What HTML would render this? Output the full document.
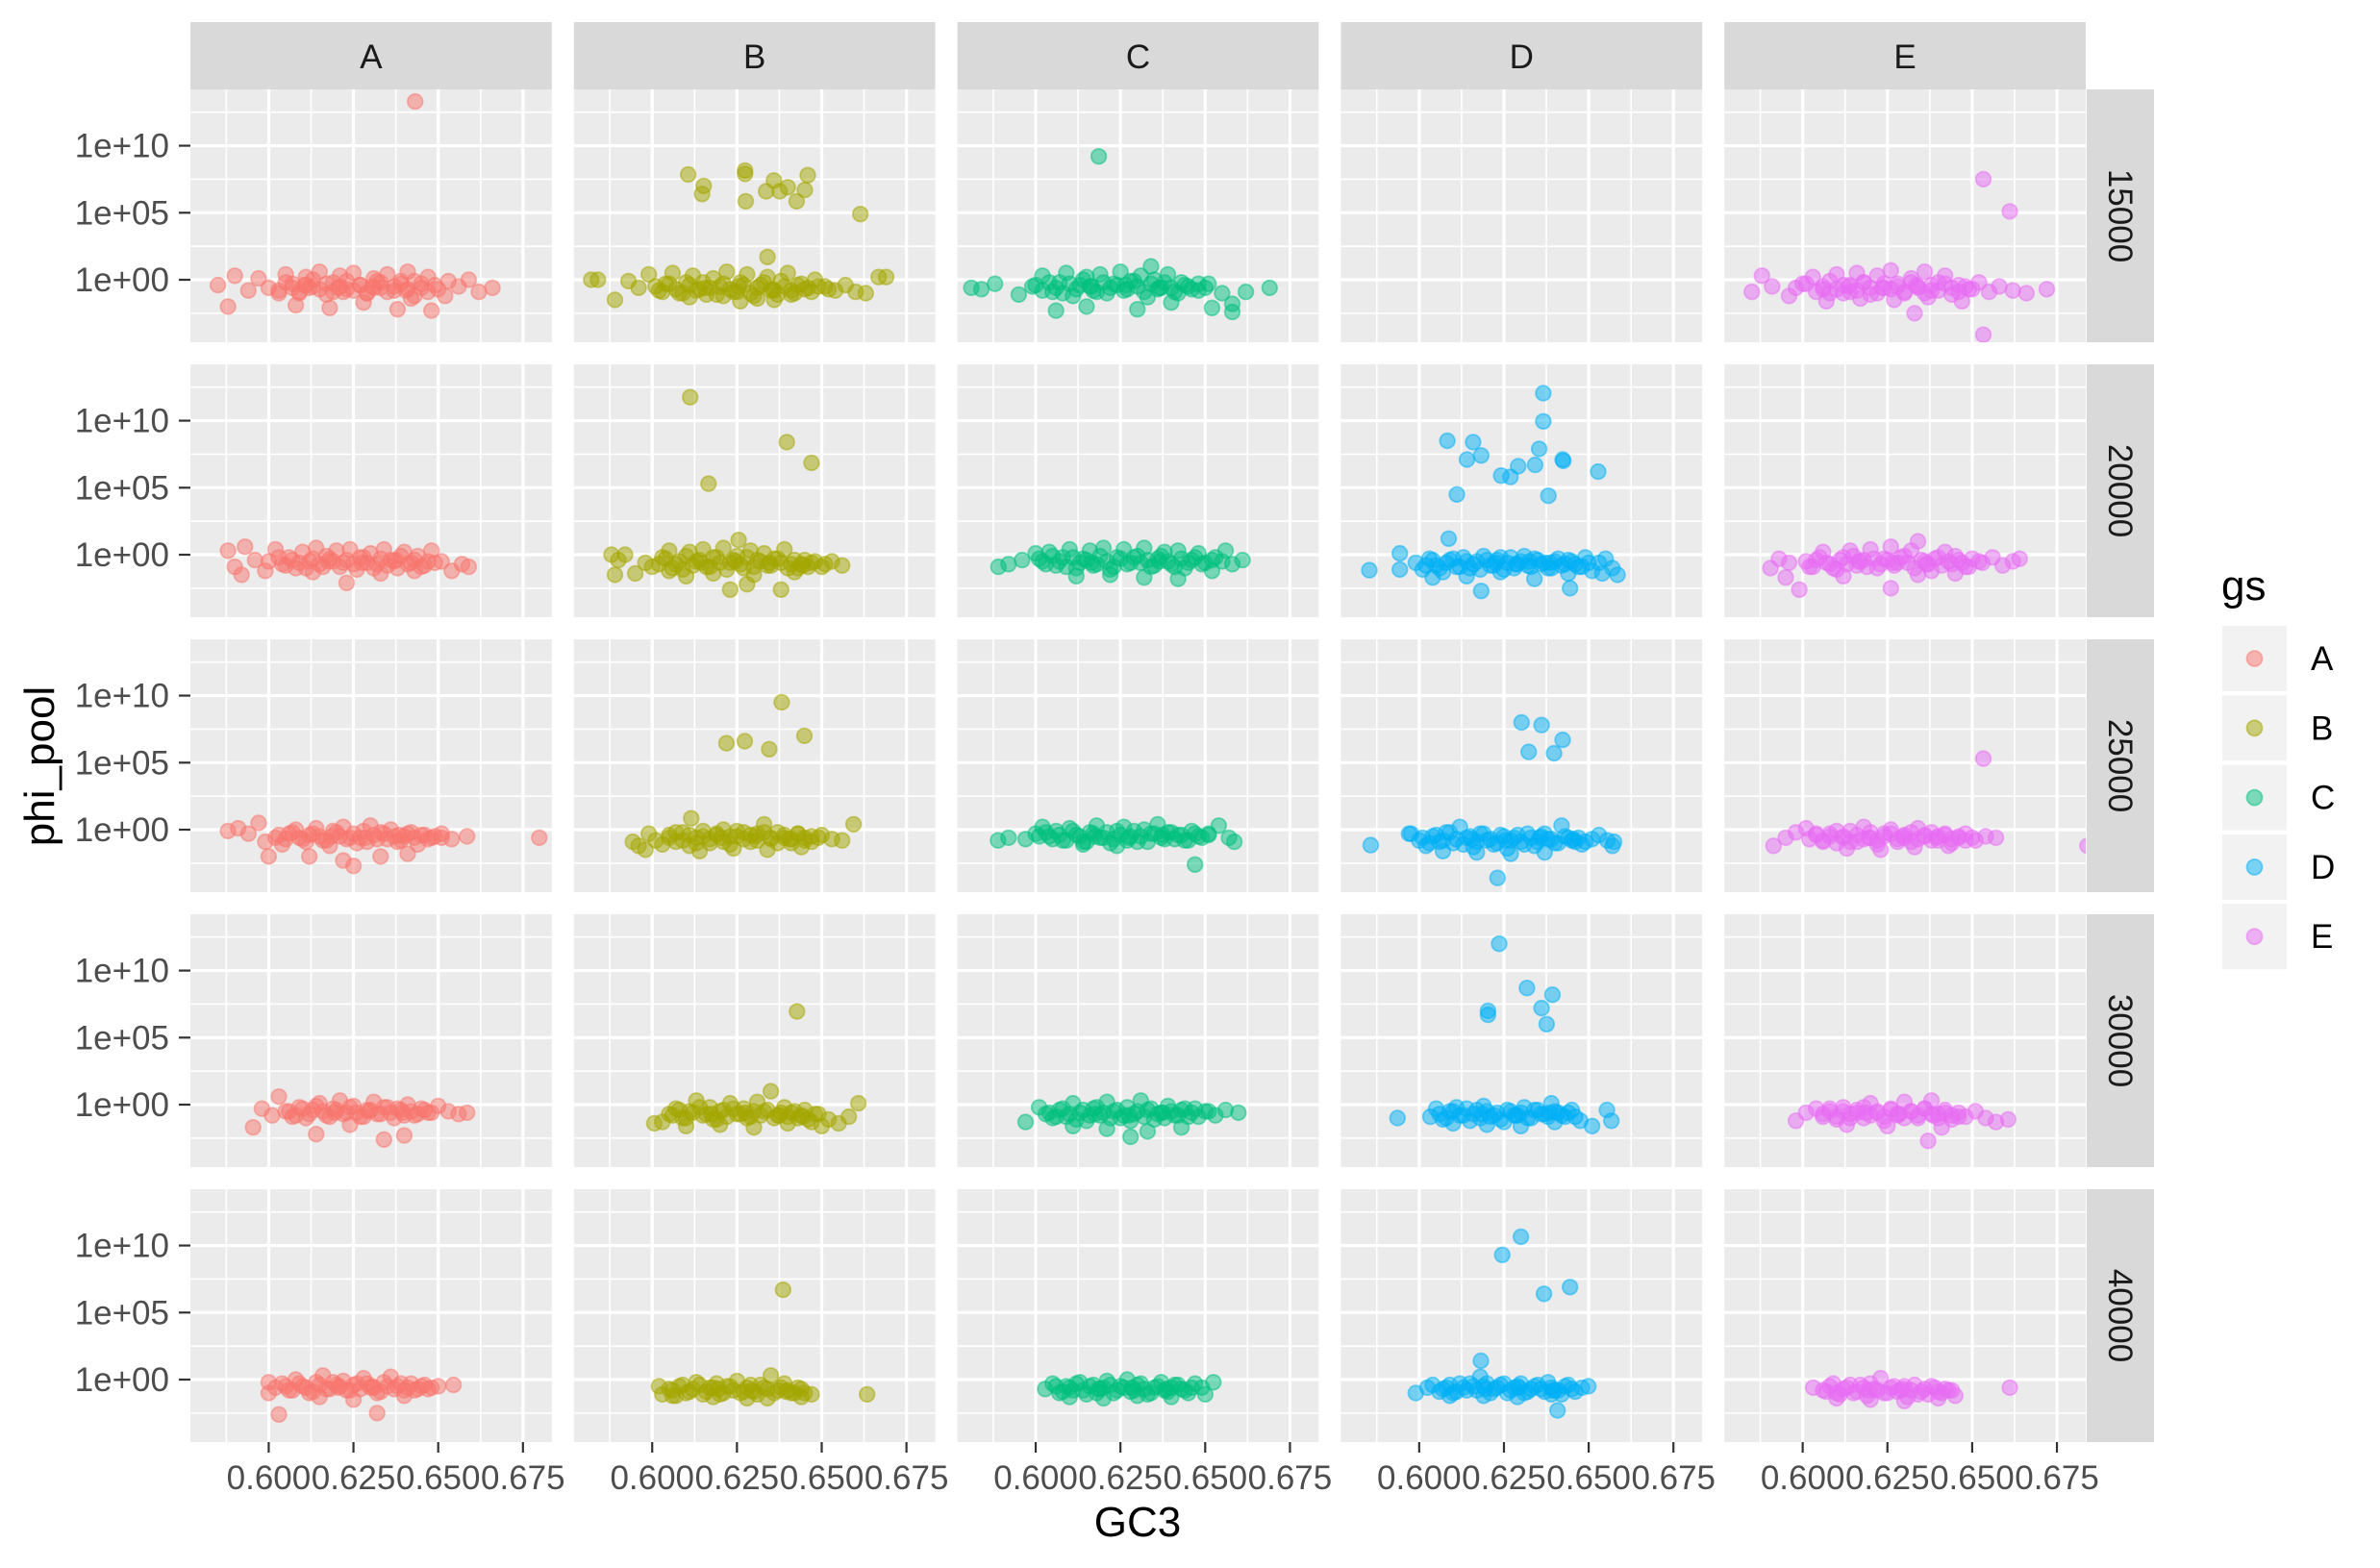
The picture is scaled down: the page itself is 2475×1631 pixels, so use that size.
<!DOCTYPE html>
<html><head><meta charset="utf-8"><style>
html,body{margin:0;padding:0;background:#fff;}
svg{display:block;font-family:"Liberation Sans",Arial,sans-serif;}
</style></head><body>
<svg id="chart" width="2475" height="1631" viewBox="0 0 2475 1631" xmlns="http://www.w3.org/2000/svg">
<rect x="0" y="0" width="2475" height="1631" fill="#ffffff"/>
<g id="panels"></g>
<g id="strips"></g>
<g id="axes"></g>
<text x="1183" y="1598" font-size="44" text-anchor="middle" fill="#000">GC3</text>
<text x="0" y="0" font-size="44" text-anchor="middle" fill="#000" transform="translate(56,797) rotate(-90)">phi_pool</text>
<g id="legend">
<text x="2310" y="624" font-size="44" fill="#000">gs</text>
</g>
</svg>
<script>
const groups = ["A","B","C","D","E"];
const rowsLab = ["15000","20000","25000","30000","40000"];
const colors = ["#F8766D","#A3A500","#00BF7D","#00B0F6","#E76BF3"];
const xTicks = [0.600,0.625,0.650,0.675];
const xTickLabels = ["0.600","0.625","0.650","0.675"];
const yTicks = [0,5,10];
const yTickLabels = ["1e+00","1e+05","1e+10"];

// row 15000
const gc_A_15000 = [.585,.590,.594,.597,.600,.603,.605,.607,.609,.611,.613,.615,.617,.619,.621,.623,.625,.627,.629,.631,.633,.635,.637,.639,.641,.643,.645,.647,.650,.653,.656,.659,.662,.666,.588,.608,.618,.628,.638,.648,.612,.622,.632,.642,.652,.6432];
const lg_A_15000 = [-.4,.3,-.8,.1,-.6,-1.0,.4,-.3,-.9,.2,-.5,.6,-1.1,-.2,.3,-.7,.5,-.4,-1.0,.1,-.6,.4,-.8,-.1,.6,-1.2,-.3,.2,-.7,-.1,-.5,0,-.9,-.6,-2.0,-1.9,-2.1,-1.7,-2.2,-2.3,-.6,-.9,-.1,-1.4,-1.2,13.3];
const gcx_A_15000 = [.603,.605,.607,.609,.611,.613,.615,.617,.619,.621,.623,.625,.627,.629,.631,.633,.635,.637,.639,.641,.643,.645,.647,.649,.6105,.6205,.6305,.6405];
const lgx_A_15000 = [-.8,-.2,-.6,-1.0,-.4,.0,-.7,-.3,-.9,-.5,-.1,-.8,-.4,-1.0,-.6,-.2,-.9,-.5,-.3,-.7,-.1,-.6,-.9,-.4,-.4,-.6,-.5,-.8];
const gc_B_15000 = [.582,.584,.589,.593,.596,.599,.602,.604,.606,.608,.610,.612,.614,.616,.618,.620,.622,.624,.626,.628,.630,.632,.634,.636,.638,.640,.642,.644,.646,.648,.651,.654,.657,.660,.663,.669,.611,.621,.631,.641,.626,.636,.6106,.6152,.6147,.6274,.6274,.6276,.6359,.6336,.6376,.640,.6426,.645,.6459,.6614,.634,.6668];
const lg_B_15000 = [0,0,-1.5,-.1,-.6,.4,-.8,-.3,.5,-1.0,-.2,.3,-.7,-1.1,.1,-.5,.6,-.9,-.2,.4,-1.2,-.4,.2,-.8,-.1,.5,-1.0,-.3,-.6,0,-.5,-.8,-.4,-.9,-1.0,.2,-1.3,-1.2,-1.4,-1.1,-1.6,-1.5,7.85,7.0,6.4,8.15,7.9,5.85,7.4,6.6,6.6,6.9,5.85,6.7,7.8,4.9,1.7,.2];
const gcx_B_15000 = [.601,.603,.605,.607,.609,.611,.613,.615,.617,.619,.621,.623,.625,.627,.629,.631,.633,.635,.637,.639,.641,.643,.645,.647,.649,.652,.6155,.6255,.6355];
const lgx_B_15000 = [-.5,-.9,-.3,-.7,-1.0,-.4,-.8,-.2,-.6,-1.1,-.3,-.7,-.9,-.4,-1.0,-.6,-.2,-.8,-1.1,-.5,-.8,-.4,-.7,-.9,-.5,-.7,-.6,-.5,-.7];
const gc_C_15000 = [.581,.584,.588,.595,.599,.602,.605,.607,.609,.611,.613,.615,.617,.619,.621,.623,.625,.627,.629,.631,.633,.635,.637,.639,.641,.643,.645,.648,.651,.655,.658,.658,.662,.669,.606,.615,.630,.640,.652,.6186,.634];
const lg_C_15000 = [-.6,-.7,-.3,-1.1,-.5,.3,-.9,-.2,.5,-1.2,-.4,.2,-.8,.4,-1.0,-.3,.6,-.7,-.1,.3,-1.3,0,-.6,.4,-.9,-.2,-.5,-.8,-.3,-1.0,-1.8,-2.4,-.9,-.6,-2.3,-2.0,-2.2,-1.7,-2.1,9.2,1.0];
const gcx_C_15000 = [.600,.602,.604,.606,.608,.610,.612,.614,.616,.618,.620,.622,.624,.626,.628,.630,.632,.634,.636,.638,.640,.642,.644,.646,.648,.650,.6165,.6265,.6365];
const lgx_C_15000 = [-.4,-.8,-.2,-.6,-1.0,-.3,-.7,.0,-.5,-.9,-.2,-.6,-.4,-.8,-.1,-.5,-.9,-.3,-.7,-.2,-.6,-1.0,-.4,-.7,-.3,-.6,-.5,-.4,-.6];
const gc_D_15000 = [];
const lg_D_15000 = [];
const gcx_D_15000 = [];
const lgx_D_15000 = [];
const gc_E_15000 = [.585,.588,.591,.596,.600,.603,.606,.608,.610,.612,.614,.616,.618,.620,.622,.624,.626,.628,.630,.632,.634,.636,.638,.640,.642,.644,.646,.649,.652,.655,.658,.662,.666,.672,.607,.617,.627,.637,.647,.633,.6533,.6611,.6533];
const lg_E_15000 = [-.9,.3,-.5,-1.2,-.3,.2,-.7,-1.0,.4,-.4,-.9,.5,-.2,-1.1,.3,-.6,.7,-.3,-1.0,.1,-.5,.6,-.8,-.2,.3,-1.1,-.4,-.7,-.2,-.9,-.5,-.8,-1.0,-.7,-1.6,-1.4,-1.5,-1.3,-1.6,-2.5,7.5,5.1,-4.1];
const gcx_E_15000 = [.598,.601,.604,.606,.608,.610,.612,.614,.616,.618,.620,.622,.624,.626,.628,.630,.632,.634,.636,.638,.640,.642,.644,.646,.648,.650,.6135,.6235,.6335];
const lgx_E_15000 = [-.6,-.3,-.9,-.5,-.1,-.7,-1.0,-.4,-.8,-.2,-.6,-1.0,-.3,-.7,-.5,-.9,-.2,-.6,-1.0,-.4,-.8,-.3,-.6,-.9,-.5,-.7,-.5,-.6,-.4];
// row 20000
const gc_A_20000 = [.588,.590,.593,.596,.599,.602,.604,.606,.608,.610,.612,.614,.616,.618,.620,.622,.624,.626,.628,.630,.632,.634,.636,.638,.640,.642,.644,.646,.648,.651,.654,.657,.659,.592,.613,.623,.633,.643];
const lg_A_20000 = [.3,-.9,.6,-.4,-1.2,.4,-.7,-.2,-1.0,.2,-.5,.5,-.9,-.3,.3,-.6,.4,-1.1,-.2,.1,-.7,.4,-.4,-1.0,.2,-.6,-.1,-.8,.3,-.5,-1.2,-.7,-.9,-1.5,-1.3,-2.1,-1.4,-1.2];
const gcx_A_20000 = [.600,.603,.605,.607,.609,.611,.613,.615,.617,.619,.621,.623,.625,.627,.629,.631,.633,.635,.637,.639,.641,.643,.645,.647,.649,.6175,.6275,.6375];
const lgx_A_20000 = [-.5,-.2,-.8,-.4,-.6,-1.0,-.3,-.7,-.1,-.5,-.9,-.4,-.7,-.2,-.6,-1.0,-.3,-.8,-.5,-.1,-.7,-.4,-.9,-.5,-.6,-.5,-.6,-.4];
const gc_B_20000 = [.588,.590,.592,.595,.598,.600,.603,.605,.607,.609,.611,.613,.615,.617,.619,.621,.623,.625,.627,.629,.631,.633,.635,.637,.639,.641,.643,.645,.647,.650,.653,.656,.589,.610,.623,.630,.638,.605,.618,.628,.642,.6112,.6397,.647,.6166,.6255];
const lg_B_20000 = [0,-.4,0,-1.4,-.6,-.9,-.2,.3,-.7,-1.1,.2,-.5,.4,-.9,-.2,.5,-.6,-.1,-1.0,.3,-.4,.1,-.8,-.3,.4,-.7,-1.0,-.4,-.6,-.9,-.5,-.8,-1.5,-1.6,-2.6,-1.5,-2.6,-1.2,-1.4,-2.2,-1.3,11.75,8.4,6.85,5.3,1.1];
const gcx_B_20000 = [.602,.604,.606,.608,.610,.612,.614,.616,.618,.620,.622,.624,.626,.628,.630,.632,.634,.636,.638,.640,.642,.644,.646,.648,.651,.6145,.6245,.6345,.6445];
const lgx_B_20000 = [-.7,-.3,-1.0,-.5,-.1,-.8,-.4,-.9,-.2,-.6,-1.1,-.4,-.7,-.2,-.9,-.5,-.8,-.3,-.6,-1.0,-.4,-.7,-.9,-.5,-.7,-.6,-.5,-.6,-.8];
const gc_C_20000 = [.589,.592,.596,.600,.602,.604,.606,.608,.610,.612,.614,.616,.618,.620,.622,.624,.626,.628,.630,.632,.634,.636,.638,.640,.642,.644,.646,.648,.650,.653,.656,.658,.661,.612,.622,.632,.642,.652];
const lg_C_20000 = [-.9,-.7,-.4,.1,-.5,.2,-.8,-.2,.4,-1.0,-.3,.3,-.7,.5,-1.1,-.2,.4,-.6,-.1,.5,-.9,-.3,.2,-.7,.3,-1.0,-.4,.1,-.6,-.2,.3,-.7,-.4,-1.6,-1.5,-1.7,-1.8,-1.2];
const gcx_C_20000 = [.601,.603,.605,.607,.609,.611,.613,.615,.617,.619,.621,.623,.625,.627,.629,.631,.633,.635,.637,.639,.641,.643,.645,.647,.649,.652,.655,.6165,.6365];
const lgx_C_20000 = [-.3,-.7,-.1,-.5,-.9,-.2,-.6,-.4,-.8,-.1,-.5,-.9,-.3,-.7,-.2,-.6,-.4,-.8,-.1,-.5,-.9,-.3,-.6,-.2,-.7,-.4,-.5,-.6,-.5];
const gc_D_20000 = [.599,.601,.603,.605,.607,.609,.611,.613,.615,.617,.619,.621,.623,.625,.627,.629,.631,.633,.635,.637,.639,.641,.643,.645,.647,.649,.651,.653,.655,.657,.6585,.604,.614,.624,.634,.644,.654,.6366,.6366,.6083,.6159,.6141,.6183,.6242,.6269,.6292,.6342,.6354,.6423,.6425,.6528,.6111,.6381,.6087,.6183,.6445,.5853,.5943,.5943];
const lg_D_20000 = [-.6,-1.1,-.3,-.8,-1.3,-.4,-.9,-.2,-1.0,-.5,-.1,-.8,-.4,-1.1,-.2,-.7,-.1,-.9,-.4,-.6,-1.0,-.3,-.7,-.5,-.9,-.2,-1.2,-.6,-.3,-1.0,-1.5,-1.7,-1.6,-1.3,-1.8,-1.4,-1.4,12.05,9.95,8.5,8.4,7.1,7.4,5.9,5.8,6.6,6.7,7.9,7.1,7.0,6.2,4.5,4.4,1.2,-2.7,-2.5,-1.15,.1,-1.1];
const gcx_D_20000 = [.602,.604,.606,.608,.610,.612,.614,.616,.618,.620,.622,.624,.626,.628,.630,.632,.634,.636,.638,.640,.642,.644,.646,.648,.650,.6225,.6285,.6325,.6385];
const lgx_D_20000 = [-.8,-.4,-1.0,-.6,-.3,-.9,-.5,-.7,-1.1,-.4,-.8,-.2,-.6,-1.0,-.5,-.8,-.3,-.7,-1.0,-.5,-.8,-.4,-.7,-.9,-.6,-.6,-.7,-.5,-.6];
const gc_E_20000 = [.5905,.593,.596,.599,.602,.604,.606,.608,.610,.612,.614,.616,.618,.620,.622,.624,.626,.628,.630,.632,.634,.636,.638,.640,.642,.644,.646,.648,.650,.653,.656,.659,.662,.664,.595,.612,.626,.634,.645];
const lg_E_20000 = [-1.0,-.3,-.6,-2.6,-.9,-.4,.2,-.7,-1.1,-.2,.3,-.8,-.4,.4,-1.0,-.3,.6,-.6,-.1,.3,1.0,-.5,-1.2,-.2,.2,-.7,-.4,-.9,-.3,-.6,-.2,-.8,-.5,-.3,-1.7,-1.6,-2.5,-1.5,-1.4];
const gcx_E_20000 = [.601,.603,.605,.607,.609,.611,.613,.615,.617,.619,.621,.623,.625,.627,.629,.631,.633,.635,.637,.639,.641,.643,.645,.647,.649,.652,.6165,.6265,.6365];
const lgx_E_20000 = [-.5,-.9,-.2,-.6,-1.0,-.4,-.7,-.1,-.5,-.9,-.3,-.7,-.4,-.8,-.2,-.6,-1.0,-.4,-.7,-.3,-.8,-.5,-.1,-.6,-.9,-.5,-.5,-.6,-.7];
// row 25000
const gc_A_25000 = [.588,.591,.594,.597,.599,.602,.604,.606,.608,.610,.612,.614,.616,.618,.620,.622,.624,.626,.628,.630,.632,.634,.636,.638,.640,.642,.644,.646,.648,.651,.654,.6585,.6798,.600,.612,.622,.625,.633,.641];
const lg_A_25000 = [-.1,.1,-.3,.5,-.9,-.6,-1.1,-.3,0,-.7,-.4,.1,-.8,-1.2,-.2,.2,-.6,-1.0,-.1,.3,-.7,-.3,0,-.9,-.5,-.2,-1.1,-.4,-.6,-.3,-.7,-.5,-.6,-2.0,-2.0,-2.3,-2.7,-2.0,-1.8];
const gcx_A_25000 = [.603,.605,.607,.609,.611,.613,.615,.617,.619,.621,.623,.625,.627,.629,.631,.633,.635,.637,.639,.641,.643,.645,.647,.649,.651,.6185,.6285,.6385];
const lgx_A_25000 = [-.4,-.7,-.2,-.6,-.9,-.3,-.5,-.8,-.1,-.5,-.7,-.3,-.6,-.9,-.4,-.2,-.7,-.5,-.8,-.3,-.6,-.4,-.7,-.5,-.6,-.5,-.6,-.4];
const gc_B_25000 = [.5943,.596,.599,.601,.603,.605,.607,.609,.611,.613,.615,.617,.619,.621,.623,.625,.627,.629,.631,.633,.635,.637,.639,.641,.643,.645,.647,.650,.653,.656,.6594,.598,.614,.624,.634,.644,.6382,.6219,.6273,.6345,.6449,.6115];
const lg_B_25000 = [-.9,-1.2,-.3,-.8,-1.1,-.4,-.9,-.2,-1.2,-.6,-.1,-1.0,-.4,0,-1.1,-.5,-.2,-.9,-.3,.4,-.7,-.2,-.6,-1.0,-.3,-.6,-.9,-.4,-.7,-.8,.4,-1.5,-1.6,-1.4,-1.5,-1.3,9.5,6.45,6.6,6.0,7.0,.85];
const gcx_B_25000 = [.605,.607,.609,.611,.613,.615,.617,.619,.621,.623,.625,.627,.629,.631,.633,.635,.637,.639,.641,.643,.645,.647,.649,.6205,.6305,.6405];
const lgx_B_25000 = [-.6,-.2,-.8,-.4,-1.0,-.5,-.7,-.3,-.9,-.5,-.1,-.7,-.4,-.8,-.2,-.6,-1.0,-.4,-.7,-.3,-.8,-.5,-.6,-.6,-.5,-.7];
const gc_C_25000 = [.5889,.592,.597,.600,.602,.604,.606,.608,.610,.612,.614,.616,.618,.620,.622,.624,.626,.628,.630,.632,.634,.636,.638,.640,.642,.644,.646,.648,.651,.654,.657,.6586,.647,.614,.624];
const lg_C_25000 = [-.8,-.6,-.7,-.3,.2,-.5,-.1,-.8,.1,-.4,-.9,-.2,.3,-.6,-1.0,-.1,.2,-.5,-.9,0,-.3,.4,-.7,-.2,-.4,-.8,-.1,-.5,-.3,.3,-.6,-.9,-2.6,-1.1,-1.2];
const gcx_C_25000 = [.601,.603,.605,.607,.609,.611,.613,.615,.617,.619,.621,.623,.625,.627,.629,.631,.633,.635,.637,.639,.641,.643,.645,.647,.649,.651,.6175,.6275,.6375];
const lgx_C_25000 = [-.5,-.2,-.7,-.4,-.8,-.1,-.5,-.9,-.3,-.6,-.2,-.7,-.4,-.8,-.1,-.5,-.9,-.3,-.6,-.2,-.7,-.4,-.8,-.3,-.6,-.4,-.5,-.6,-.4];
const gc_D_25000 = [.5857,.597,.600,.602,.604,.606,.608,.610,.612,.614,.616,.618,.620,.622,.624,.626,.628,.630,.632,.634,.636,.638,.640,.642,.644,.646,.648,.651,.653,.6555,.6575,.657,.607,.617,.627,.637,.6302,.6361,.6423,.6323,.6398,.6231,.5976];
const lg_D_25000 = [-1.15,-.3,-.8,-1.2,-.5,-.9,-.2,-1.0,.2,-.6,-1.3,-.3,-.8,-1.1,-.4,-1.4,-.6,-.9,-.3,-1.2,-.5,-.7,-1.0,.3,-.6,-.9,-1.1,-.7,-.4,-.8,-.9,-1.2,-1.6,-1.7,-1.8,-1.7,8.0,7.8,6.7,5.8,5.7,-3.6,-.3];
const gcx_D_25000 = [.601,.603,.605,.607,.609,.611,.613,.615,.617,.619,.621,.623,.625,.627,.629,.631,.633,.635,.637,.639,.641,.643,.645,.647,.649,.6155,.6255,.6355,.6455];
const lgx_D_25000 = [-.6,-1.0,-.4,-.8,-.2,-.7,-1.1,-.5,-.9,-.3,-.7,-1.0,-.5,-.8,-.4,-1.1,-.6,-.9,-.3,-.7,-1.0,-.5,-.8,-.6,-.9,-.7,-.8,-.6,-.7];
const gc_E_25000 = [.5914,.595,.598,.601,.604,.606,.608,.610,.612,.614,.616,.618,.620,.622,.624,.626,.628,.630,.632,.634,.636,.638,.640,.642,.644,.646,.648,.651,.654,.657,.684,.613,.623,.633,.643,.6533];
const lg_E_25000 = [-1.2,-.6,-.2,.1,-.4,-.9,-.3,-1.0,-.5,-.1,-.9,.2,-.6,-1.1,-.3,0,-.7,-.4,-.9,.1,-.5,-.2,-.8,-.4,-1.0,-.6,-.3,-.8,-.5,-.6,-1.2,-1.4,-1.5,-1.3,-1.2,5.3];
const gcx_E_25000 = [.602,.604,.606,.608,.610,.612,.614,.616,.618,.620,.622,.624,.626,.628,.630,.632,.634,.636,.638,.640,.642,.644,.646,.648,.650,.6195,.6295,.6395];
const lgx_E_25000 = [-.7,-.3,-.8,-.5,-.1,-.6,-.9,-.4,-.7,-.2,-.8,-.5,-.3,-.9,-.6,-.2,-.7,-.4,-.8,-.5,-.3,-.7,-.5,-.8,-.6,-.6,-.5,-.6];
// row 30000
const gc_A_30000 = [.5954,.598,.601,.603,.605,.607,.609,.611,.613,.615,.617,.619,.621,.623,.625,.627,.629,.631,.633,.635,.637,.639,.641,.643,.645,.647,.650,.653,.656,.6585,.614,.624,.634,.640];
const lg_A_30000 = [-1.7,-.3,-.8,.6,-.5,-.9,-.2,-1.0,-.4,.1,-.8,-.3,.3,-.6,-.1,-.9,-.4,.2,-.7,-.2,-1.0,-.4,0,-.8,-.3,-.6,-.1,-.5,-.7,-.6,-2.2,-1.5,-2.6,-2.3];
const gcx_A_30000 = [.606,.608,.610,.612,.614,.616,.618,.620,.622,.624,.626,.628,.630,.632,.634,.636,.638,.640,.642,.644,.646,.648,.6195,.6295,.6395];
const lgx_A_30000 = [-.5,-.8,-.3,-.7,-.1,-.5,-.9,-.4,-.7,-.2,-.6,-.9,-.4,-.7,-.2,-.6,-.3,-.8,-.5,-.7,-.4,-.6,-.6,-.5,-.6];
const gc_B_30000 = [.6006,.603,.605,.607,.609,.611,.613,.615,.617,.619,.621,.623,.625,.627,.629,.631,.633,.635,.637,.639,.641,.643,.645,.647,.649,.652,.655,.658,.6608,.610,.620,.630,.640,.650,.6427];
const lg_B_30000 = [-1.4,-1.3,-.7,-.3,-1.0,-.5,.3,-.8,-.2,-1.1,-.4,.1,-.7,-.3,-.9,.2,-.5,1.0,-.8,-.2,-.6,-1.0,-.4,-1.3,-.7,-1.1,-1.4,-.9,.1,-1.6,-1.5,-1.7,-1.4,-1.6,6.95];
const gcx_B_30000 = [.606,.608,.610,.612,.614,.616,.618,.620,.622,.624,.626,.628,.630,.632,.634,.636,.638,.640,.642,.644,.646,.648,.6175,.6275,.6375,.6445];
const lgx_B_30000 = [-.8,-.4,-1.0,-.6,-.2,-.7,-1.1,-.5,-.9,-.3,-.7,-1.0,-.5,-.8,-.4,-1.0,-.6,-.9,-.5,-.8,-1.1,-.7,-.7,-.6,-.8,-.9];
const gc_C_30000 = [.597,.601,.603,.605,.607,.609,.611,.613,.615,.617,.619,.621,.623,.625,.627,.629,.631,.633,.635,.637,.639,.641,.643,.645,.647,.650,.653,.656,.6598,.611,.621,.628,.633,.643];
const lg_C_30000 = [-1.3,-.2,-.7,-1.0,-.4,-.9,.1,-.6,-1.2,-.3,-.8,.2,-.5,-1.0,-.2,-.7,.3,-.4,-1.1,-.6,-.1,-.8,-.4,-.9,-.3,-.5,-.8,-.4,-.6,-1.6,-1.8,-2.4,-2.0,-1.7];
const gcx_C_30000 = [.604,.606,.608,.610,.612,.614,.616,.618,.620,.622,.624,.626,.628,.630,.632,.634,.636,.638,.640,.642,.644,.646,.648,.651,.6175,.6275,.6375];
const lgx_C_30000 = [-.6,-.9,-.3,-.7,-1.1,-.4,-.8,-.2,-.6,-1.0,-.4,-.8,-1.2,-.5,-.9,-.3,-.7,-1.0,-.5,-.8,-.3,-.6,-.9,-.5,-.7,-.8,-.6];
const gc_D_30000 = [.6033,.605,.607,.609,.611,.613,.615,.617,.619,.621,.623,.625,.627,.629,.631,.633,.635,.637,.639,.641,.643,.645,.6475,.610,.620,.630,.640,.6236,.6318,.6393,.6361,.6203,.6203,.6376,.5936,.651,.6554,.6567];
const lg_D_30000 = [-.9,-.3,-1.1,-.5,-.2,-.8,-1.2,-.4,-.1,-.9,-.6,-1.3,-.5,-.8,-.2,-1.0,-.4,-.7,.1,-.6,-.9,-.4,-1.2,-1.4,-1.5,-1.6,-1.3,12.0,8.7,8.2,7.2,7.0,6.7,6.0,-1.0,-1.6,-.4,-1.2];
const gcx_D_30000 = [.606,.608,.610,.612,.614,.616,.618,.620,.622,.624,.626,.628,.630,.632,.634,.636,.638,.640,.642,.644,.646,.6185,.6285,.6385];
const lgx_D_30000 = [-.7,-1.0,-.5,-.8,-.3,-.7,-1.0,-.5,-.8,-1.1,-.4,-.8,-.6,-1.0,-.4,-.7,-.9,-.5,-.8,-.6,-.9,-.7,-.8,-.6];
const gc_E_30000 = [.598,.601,.604,.606,.608,.610,.612,.614,.616,.618,.620,.622,.624,.626,.628,.630,.632,.634,.636,.638,.640,.642,.644,.646,.648,.651,.654,.657,.6606,.613,.625,.637,.641];
const lg_E_30000 = [-1.2,-.6,-.3,-.9,-.5,-1.1,-.2,-.7,-.4,-1.0,.1,-.6,-1.2,-.3,-.8,.2,-.5,-1.0,-.3,.3,-.7,-.4,-1.1,-.6,-.9,-.5,-1.0,-1.3,-1.1,-1.5,-1.6,-2.7,-1.7];
const gcx_E_30000 = [.606,.608,.610,.612,.614,.616,.618,.620,.622,.624,.626,.628,.630,.632,.634,.636,.638,.640,.642,.644,.646,.6185,.6285,.6385];
const lgx_E_30000 = [-.7,-.3,-.9,-.5,-1.0,-.6,-.2,-.8,-.5,-.9,-.4,-.7,-1.0,-.5,-.8,-.3,-.7,-1.0,-.6,-.8,-.9,-.6,-.7,-.8];
// row 40000
const gc_A_40000 = [.600,.600,.602,.604,.606,.608,.610,.612,.614,.616,.618,.620,.622,.624,.626,.628,.630,.632,.634,.636,.638,.640,.642,.644,.646,.648,.650,.6545,.603,.615,.625,.632,.640];
const lg_A_40000 = [-.2,-1.0,-.6,-.3,-.8,0,-.5,-1.0,-.2,.3,-.7,-.4,-.1,-.8,-.3,.1,-.6,-1.0,-.2,.2,-.5,-.8,-.3,-.7,-.4,-.6,-.5,-.4,-2.6,-1.3,-1.5,-2.5,-1.2];
const gcx_A_40000 = [.605,.607,.609,.611,.613,.615,.617,.619,.621,.623,.625,.627,.629,.631,.633,.635,.637,.639,.641,.643,.645,.647,.6205,.6305];
const lgx_A_40000 = [-.5,-.8,-.3,-.6,-.9,-.4,-.7,-.2,-.5,-.8,-.4,-.7,-.3,-.6,-.9,-.5,-.7,-.3,-.6,-.8,-.5,-.7,-.6,-.5];
const gc_B_40000 = [.602,.603,.605,.607,.609,.611,.613,.615,.617,.619,.621,.623,.625,.627,.629,.631,.633,.635,.637,.639,.641,.643,.645,.647,.6634,.606,.618,.628,.634,.644,.6386];
const lg_B_40000 = [-.5,-1.1,-.7,-1.2,-.4,-.9,-.2,-1.1,-.6,-.3,-1.0,-.5,-.1,-.9,-.4,-1.1,-.6,.3,-.8,-.3,-1.0,-.6,-1.0,-1.1,-1.1,-1.2,-1.3,-1.4,-1.4,-1.3,6.7];
const gcx_B_40000 = [.606,.608,.610,.612,.614,.616,.618,.620,.622,.624,.626,.628,.630,.632,.634,.636,.638,.640,.642,.644,.6195,.6295,.6395];
const lgx_B_40000 = [-.8,-.5,-1.0,-.7,-.4,-.9,-.6,-1.1,-.5,-.8,-1.0,-.6,-.9,-.4,-.7,-1.0,-.6,-.8,-1.0,-.7,-.7,-.8,-.9];
const gc_C_40000 = [.6028,.605,.607,.609,.611,.613,.615,.617,.619,.621,.623,.625,.627,.629,.631,.633,.635,.637,.639,.641,.643,.645,.647,.649,.6524,.610,.620,.630,.640,.650];
const lg_C_40000 = [-.7,-.3,-1.0,-.5,-.8,-.2,-1.1,-.4,-.7,-.1,-1.0,-.5,0,-.8,-.3,-1.1,-.6,-.2,-.9,-.4,-.7,-1.0,-.3,-.6,-.2,-1.3,-1.4,-1.2,-1.3,-1.1];
const gcx_C_40000 = [.606,.608,.610,.612,.614,.616,.618,.620,.622,.624,.626,.628,.630,.632,.634,.636,.638,.640,.642,.644,.646,.6185,.6285,.6385];
const lgx_C_40000 = [-.5,-.9,-.6,-.3,-.8,-.5,-1.0,-.6,-.4,-.8,-.6,-.9,-.4,-.7,-1.0,-.5,-.8,-.6,-.4,-.8,-.6,-.7,-.6,-.7];
const gc_D_40000 = [.6024,.604,.606,.608,.610,.612,.614,.616,.618,.620,.622,.624,.626,.628,.630,.632,.634,.636,.638,.640,.642,.644,.646,.648,.6499,.609,.619,.629,.639,.630,.6245,.6368,.6445,.6182,.6408,.599];
const lg_D_40000 = [-.6,-.4,-.9,-.6,-1.0,-.3,-.8,-.5,.2,-.3,-.7,-.4,-1.0,-.6,-.3,-.9,-.5,-.7,-.2,-.8,-1.1,-.4,-.9,-.6,-.5,-1.2,-1.2,-1.3,-1.1,10.65,9.3,6.4,6.9,1.4,-2.3,-1.0];
const gcx_D_40000 = [.607,.609,.611,.613,.615,.617,.619,.621,.623,.625,.627,.629,.631,.633,.635,.637,.639,.641,.643,.645,.6195,.6295,.6395];
const lgx_D_40000 = [-.7,-.4,-.9,-.6,-.3,-.8,-.5,-1.0,-.6,-.3,-.8,-.5,-1.0,-.7,-.4,-.9,-.6,-.8,-.5,-.7,-.7,-.6,-.8];
const gc_E_40000 = [.6031,.607,.609,.611,.613,.615,.617,.619,.621,.623,.625,.627,.629,.631,.633,.635,.637,.639,.641,.643,.645,.6611,.610,.620,.630,.640];
const lg_E_40000 = [-.6,-.9,-.3,-1.1,-.6,-1.0,-.4,-1.2,-.7,.1,-1.0,-.5,-.8,-1.3,-.4,-.9,-1.1,-.6,-1.0,-.8,-1.2,-.6,-1.4,-1.5,-1.6,-1.4];
const gcx_E_40000 = [.606,.608,.610,.612,.614,.616,.618,.620,.622,.624,.626,.628,.630,.632,.634,.636,.638,.640,.642,.644,.6195,.6295];
const lgx_E_40000 = [-.8,-.5,-1.0,-.7,-.4,-.9,-.6,-.3,-.8,-1.0,-.6,-.9,-.5,-.8,-1.1,-.7,-.5,-.9,-.7,-.8,-.8,-.7];

const DATA = {
 "15000":{A:[gc_A_15000.concat(gcx_A_15000),lg_A_15000.concat(lgx_A_15000)],B:[gc_B_15000.concat(gcx_B_15000),lg_B_15000.concat(lgx_B_15000)],C:[gc_C_15000.concat(gcx_C_15000),lg_C_15000.concat(lgx_C_15000)],D:[gc_D_15000.concat(gcx_D_15000),lg_D_15000.concat(lgx_D_15000)],E:[gc_E_15000.concat(gcx_E_15000),lg_E_15000.concat(lgx_E_15000)]},
 "20000":{A:[gc_A_20000.concat(gcx_A_20000),lg_A_20000.concat(lgx_A_20000)],B:[gc_B_20000.concat(gcx_B_20000),lg_B_20000.concat(lgx_B_20000)],C:[gc_C_20000.concat(gcx_C_20000),lg_C_20000.concat(lgx_C_20000)],D:[gc_D_20000.concat(gcx_D_20000),lg_D_20000.concat(lgx_D_20000)],E:[gc_E_20000.concat(gcx_E_20000),lg_E_20000.concat(lgx_E_20000)]},
 "25000":{A:[gc_A_25000.concat(gcx_A_25000),lg_A_25000.concat(lgx_A_25000)],B:[gc_B_25000.concat(gcx_B_25000),lg_B_25000.concat(lgx_B_25000)],C:[gc_C_25000.concat(gcx_C_25000),lg_C_25000.concat(lgx_C_25000)],D:[gc_D_25000.concat(gcx_D_25000),lg_D_25000.concat(lgx_D_25000)],E:[gc_E_25000.concat(gcx_E_25000),lg_E_25000.concat(lgx_E_25000)]},
 "30000":{A:[gc_A_30000.concat(gcx_A_30000),lg_A_30000.concat(lgx_A_30000)],B:[gc_B_30000.concat(gcx_B_30000),lg_B_30000.concat(lgx_B_30000)],C:[gc_C_30000.concat(gcx_C_30000),lg_C_30000.concat(lgx_C_30000)],D:[gc_D_30000.concat(gcx_D_30000),lg_D_30000.concat(lgx_D_30000)],E:[gc_E_30000.concat(gcx_E_30000),lg_E_30000.concat(lgx_E_30000)]},
 "40000":{A:[gc_A_40000.concat(gcx_A_40000),lg_A_40000.concat(lgx_A_40000)],B:[gc_B_40000.concat(gcx_B_40000),lg_B_40000.concat(lgx_B_40000)],C:[gc_C_40000.concat(gcx_C_40000),lg_C_40000.concat(lgx_C_40000)],D:[gc_D_40000.concat(gcx_D_40000),lg_D_40000.concat(lgx_D_40000)],E:[gc_E_40000.concat(gcx_E_40000),lg_E_40000.concat(lgx_E_40000)]}
};

const NS="http://www.w3.org/2000/svg";
const PX0=198, PW=375.8, PSTEP=398.8, PY0=93, PH=263, RSTEP=286;
const XMIN=0.5769, XMAX=0.6835, YMIN=-4.66, YMAX=14.2;
function xs(c,v){return PX0+c*PSTEP+(v-XMIN)/(XMAX-XMIN)*PW;}
function ys(r,v){return PY0+r*RSTEP+(YMAX-v)/(YMAX-YMIN)*PH;}
function mk(tag,attrs,parent){const e=document.createElementNS(NS,tag);for(const k in attrs)e.setAttribute(k,attrs[k]);parent.appendChild(e);return e;}

const gP=document.getElementById('panels'), gS=document.getElementById('strips'), gA=document.getElementById('axes'), gL=document.getElementById('legend');
for(let r=0;r<5;r++){
 for(let c=0;c<5;c++){
  const g=mk('g',{},gP);
  
  
  const L=PX0+c*PSTEP, T=PY0+r*RSTEP;
  const cp=mk('clipPath',{id:'clip'+r+'_'+c},g);
  mk('rect',{x:L,y:T,width:PW,height:PH},cp);
  const bg=mk('rect',{x:L,y:T,width:PW,height:PH,fill:'#EBEBEB'},g);
  
  
  const xMinor=[0.5875,0.6125,0.6375,0.6625];
  xMinor.forEach(v=>{const l=mk('line',{x1:xs(c,v),x2:xs(c,v),y1:T,y2:T+PH,stroke:'#fff','stroke-width':1.6},g);});
  [-2.5,2.5,7.5,12.5].forEach(v=>{const l=mk('line',{x1:L,x2:L+PW,y1:ys(r,v),y2:ys(r,v),stroke:'#fff','stroke-width':1.6},g);});
  xTicks.forEach(v=>{const l=mk('line',{x1:xs(c,v),x2:xs(c,v),y1:T,y2:T+PH,stroke:'#fff','stroke-width':3.2},g);});
  yTicks.forEach(v=>{const l=mk('line',{x1:L,x2:L+PW,y1:ys(r,v),y2:ys(r,v),stroke:'#fff','stroke-width':3.2},g);});
  const pg=mk('g',{'clip-path':'url(#clip'+r+'_'+c+')'},g);
  
  
  const d=DATA[rowsLab[r]][groups[c]];
  for(let i=0;i<d[0].length;i++){
   const p=mk('circle',{cx:xs(c,d[0][i]).toFixed(1),cy:ys(r,d[1][i]).toFixed(1),r:7.8,fill:colors[c],'fill-opacity':0.5,stroke:colors[c],'stroke-opacity':0.5,'stroke-width':1.8},pg);
   
   
  }
 }
 const T=PY0+r*RSTEP;
 const sr=mk('rect',{x:2170,y:T,width:70,height:PH,fill:'#D9D9D9'},gS);
 
 
 const st=mk('text',{x:0,y:0,'font-size':35,'text-anchor':'middle',fill:'#1A1A1A',transform:'translate(2193,'+(T+PH/2)+') rotate(90)'},gS);
 st.textContent=rowsLab[r];
 
 
 yTicks.forEach((v,i)=>{
  const y=ys(r,v);
  const tk=mk('line',{x1:186,x2:198,y1:y,y2:y,stroke:'#333','stroke-width':2.2},gA);
  
  
  const tl=mk('text',{x:176,y:y+12,'font-size':35,'text-anchor':'end',fill:'#4D4D4D'},gA);
  tl.textContent=yTickLabels[i];
  
  
 });
}
for(let c=0;c<5;c++){
 const L=PX0+c*PSTEP;
 const s=mk('rect',{x:L,y:23,width:PW,height:70,fill:'#D9D9D9'},gS);
 
 
 const t=mk('text',{x:L+PW/2,y:71,'font-size':35,'text-anchor':'middle',fill:'#1A1A1A'},gS);
 t.textContent=groups[c];
 
 
 xTicks.forEach((v,i)=>{
  const x=xs(c,v);
  const tk=mk('line',{x1:x,x2:x,y1:1500,y2:1511,stroke:'#333','stroke-width':2.2},gA);
  
  
  const tl=mk('text',{x:x,y:1549,'font-size':35,'text-anchor':'middle',fill:'#4D4D4D'},gA);
  tl.textContent=xTickLabels[i];
  
  
 });
}
groups.forEach((gname,i)=>{
 const y=651+i*72.3;
 const k=mk('rect',{x:2311,y:y,width:67,height:68,fill:'#F2F2F2'},gL);
 
 
 const dot=mk('circle',{cx:2344.5,cy:y+34,r:8,fill:colors[i],'fill-opacity':0.5,stroke:colors[i],'stroke-opacity':0.5,'stroke-width':1.8},gL);
 
 
 const t=mk('text',{x:2403,y:y+46,'font-size':35,fill:'#000'},gL);
 t.textContent=gname;
 
 
});
</script>
</body></html>
